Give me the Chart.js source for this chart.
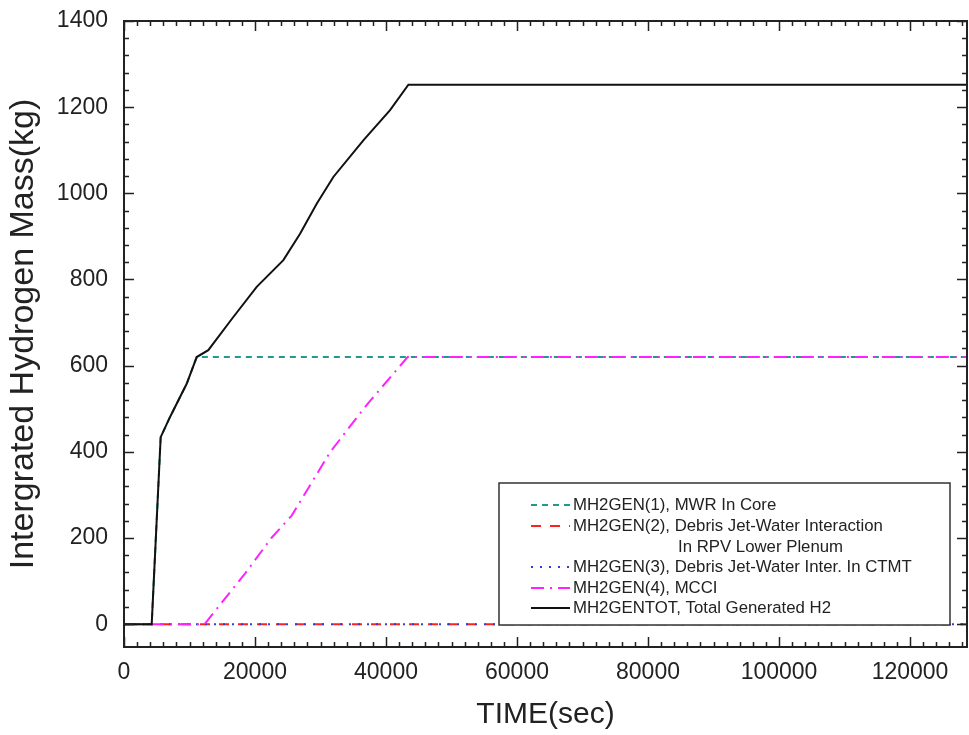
<!DOCTYPE html>
<html>
<head>
<meta charset="utf-8">
<title>Integrated Hydrogen Mass</title>
<script src="https://cdn.jsdelivr.net/npm/chart.js@4.4.1/dist/chart.umd.min.js"></script>
<style>
  html, body { margin: 0; padding: 0; background: #fff; }
  #wrap { width: 969px; height: 735px; }
</style>
</head>
<body>
<div id="wrap"><canvas id="h2Chart" width="969" height="735"></canvas></div>
<script>
// time axis (sec) and generated H2 mass (kg)
var timeTot = [0, 4230, 5600, 7030, 9570, 11100, 12870, 16690, 20260, 24330, 26880, 29420, 31960, 36540, 40620, 43420, 128700];
var massTot = [0, 0, 434, 481, 558, 620, 636, 713, 783, 845, 906, 976, 1038, 1123, 1193, 1252, 1252];

var timeCore = [0, 4230, 5600, 7030, 9570, 11100, 128700];
var massCore = [0, 0, 434, 481, 558, 620, 620];

var timeMcci = [0, 12300, 18500, 22500, 25600, 31500, 37000, 43300, 128700];
var massMcci = [0, 0, 118, 200, 252, 400, 508, 620, 620];

var timeJet = [0, 128700];
var massJetRpv = [0, 0];
var massJetCtmt = [0, 0];

var xTicks = [0, 20000, 40000, 60000, 80000, 100000, 120000];
var yTicks = [0, 200, 400, 600, 800, 1000, 1200, 1400];

var legendLabels = [
  "MH2GEN(1), MWR In Core",
  "MH2GEN(2), Debris Jet-Water Interaction",
  "MH2GEN(3), Debris Jet-Water Inter. In CTMT",
  "MH2GEN(4), MCCI",
  "MH2GENTOT, Total Generated H2"
];

function pts(xs, ys) {
  return xs.map(function (x, i) { return { x: x, y: ys[i] }; });
}

var FONT = "'Liberation Sans', Arial, sans-serif";

var series = [
  { label: legendLabels[0], data: pts(timeCore, massCore), borderColor: "#1f9a8c", borderDash: [6, 5], order: 4 },
  { label: legendLabels[1], data: pts(timeJet, massJetRpv), borderColor: "#ff2020", borderDash: [10, 9], order: 3 },
  { label: legendLabels[2], data: pts(timeJet, massJetCtmt), borderColor: "#3040d0", borderDash: [2, 7], order: 2 },
  { label: legendLabels[3], data: pts(timeMcci, massMcci), borderColor: "#ff22ff", borderDash: [13, 6, 2, 6], order: 1 },
  { label: legendLabels[4], data: pts(timeTot, massTot), borderColor: "#111111", borderDash: [], order: 0 }
];

// frame with inward ticks on all four sides
var framePlugin = {
  id: "frame",
  afterDraw: function (chart) {
    var c = chart.ctx, a = chart.chartArea;
    var xs = chart.scales.x, ys = chart.scales.y;
    c.save();
    c.strokeStyle = "#222";
    c.lineWidth = 2;
    c.strokeRect(a.left, a.top, a.right - a.left, a.bottom - a.top);
    c.lineWidth = 1.5;
    c.beginPath();
    for (var v = 0; v <= xs.max; v += 2000) {
      var px = Math.round(xs.getPixelForValue(v)) + 0.5;
      var len = (v % 20000 === 0) ? 10 : 5;
      c.moveTo(px, a.bottom); c.lineTo(px, a.bottom - len);
      c.moveTo(px, a.top); c.lineTo(px, a.top + len);
    }
    for (var w = 0; w <= ys.max; w += 40) {
      var py = Math.round(ys.getPixelForValue(w)) + 0.5;
      var l2 = (w % 200 === 0) ? 10 : 5;
      c.moveTo(a.left, py); c.lineTo(a.left + l2, py);
      c.moveTo(a.right, py); c.lineTo(a.right - l2, py);
    }
    c.stroke();
    c.restore();
  }
};

// boxed legend in the lower right of the plot
var legendPlugin = {
  id: "boxLegend",
  afterDraw: function (chart) {
    var c = chart.ctx;
    var box = { left: 499, top: 483, right: 950, bottom: 625 };
    c.save();
    c.fillStyle = "#fff";
    c.fillRect(box.left, box.top, box.right - box.left, box.bottom - box.top);
    c.strokeStyle = "#333";
    c.lineWidth = 1.5;
    c.strokeRect(box.left, box.top, box.right - box.left, box.bottom - box.top);
    var rows = [505, 526, 567, 588, 608];
    c.font = "16.8px " + FONT;
    c.textBaseline = "middle";
    c.fillStyle = "#222";
    series.forEach(function (s, i) {
      c.strokeStyle = s.borderColor;
      c.lineWidth = 2;
      c.setLineDash(s.borderDash);
      c.beginPath();
      c.moveTo(531, rows[i]);
      c.lineTo(570, rows[i]);
      c.stroke();
      c.setLineDash([]);
      c.fillText(s.label, 573, rows[i]);
    });
    c.fillText("In RPV Lower Plenum", 678, 547);
    c.restore();
  }
};

function noEdgePadding(scale) {
  scale.paddingTop = 0;
  scale.paddingBottom = 0;
  scale.paddingLeft = 0;
  scale.paddingRight = 0;
}

var ctx = document.getElementById("h2Chart").getContext("2d");
var h2Chart = new Chart(ctx, {
  type: "line",
  data: {
    datasets: series.map(function (s) {
      return {
        label: s.label,
        data: s.data,
        borderColor: s.borderColor,
        borderDash: s.borderDash,
        borderWidth: 2,
        pointRadius: 0,
        tension: 0,
        fill: false,
        order: s.order
      };
    })
  },
  options: {
    responsive: false,
    animation: false,
    layout: { padding: { top: 21, right: 2, left: 0, bottom: 0 } },
    plugins: {
      legend: { display: false },
      tooltip: { enabled: false }
    },
    scales: {
      x: {
        type: "linear",
        min: 0,
        max: 128700,
        grid: { display: false },
        border: { display: false },
        afterBuildTicks: function (scale) {
          scale.ticks = xTicks.map(function (v) { return { value: v }; });
        },
        afterFit: function (scale) { scale.height = 88; noEdgePadding(scale); },
        ticks: {
          color: "#222",
          padding: 4,
          maxRotation: 0,
          font: { family: FONT, size: 23 },
          callback: function (v) { return String(v); }
        },
        title: {
          display: true,
          text: "TIME(sec)",
          color: "#222",
          padding: { top: 0, bottom: 2 },
          font: { family: FONT, size: 30 }
        }
      },
      y: {
        type: "linear",
        min: -53,
        max: 1400,
        grid: { display: false },
        border: { display: false },
        afterBuildTicks: function (scale) {
          scale.ticks = yTicks.map(function (v) { return { value: v }; });
        },
        afterFit: function (scale) { scale.width = 124; noEdgePadding(scale); },
        ticks: {
          color: "#222",
          padding: 8,
          font: { family: FONT, size: 23 },
          callback: function (v) { return String(v); }
        },
        title: {
          display: true,
          text: "Intergrated Hydrogen Mass(kg)",
          color: "#222",
          padding: { top: 3, bottom: 0 },
          font: { family: FONT, size: 34 }
        }
      }
    }
  },
  plugins: [framePlugin, legendPlugin]
});
</script>
</body>
</html>
